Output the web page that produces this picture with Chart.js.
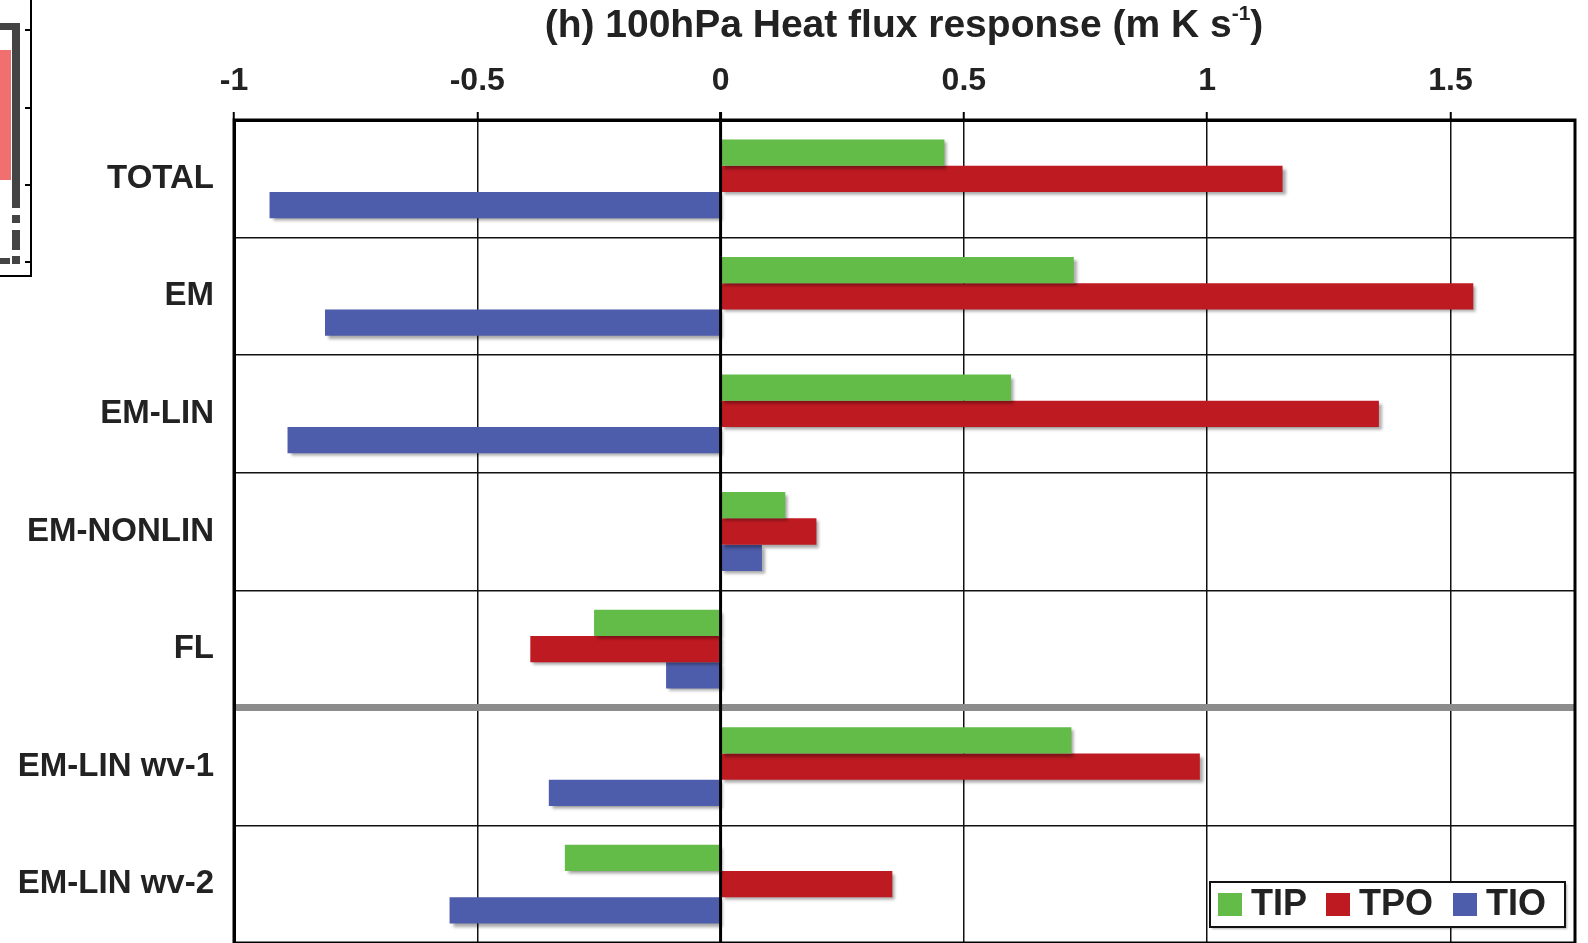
<!DOCTYPE html>
<html>
<head>
<meta charset="utf-8">
<script src="https://cdn.jsdelivr.net/npm/chart.js@4.4.1/dist/chart.umd.min.js"></script>
<style>
  html, body { margin: 0; padding: 0; background: #fff; }
</style>
</head>
<body>
<canvas id="heatChart" width="1588" height="943"></canvas>
<script>
const categories = ['TOTAL', 'EM', 'EM-LIN', 'EM-NONLIN', 'FL', 'EM-LIN wv-1', 'EM-LIN wv-2'];
const tipValues = [0.46, 0.726, 0.597, 0.133, -0.26, 0.721, -0.32];
const tpoValues = [1.155, 1.547, 1.353, 0.197, -0.391, 0.985, 0.353];
const tioValues = [-0.927, -0.813, -0.89, 0.085, -0.112, -0.353, -0.557];
const xTicks = [-1, -0.5, 0, 0.5, 1, 1.5];

const FONT = '"Liberation Sans", Arial, Helvetica, sans-serif';

// shadows under the bars, zero line + frame on top
const barShadow = {
    id: 'barShadow',
    beforeDatasetsDraw(chart) {
        const ctx = chart.ctx;
        ctx.save();
        ctx.shadowColor = 'rgba(0,0,0,0.35)';
        ctx.shadowOffsetX = 3;
        ctx.shadowOffsetY = 3;
        ctx.shadowBlur = 3;
    },
    afterDatasetsDraw(chart) {
        const ctx = chart.ctx;
        ctx.restore();
        const a = chart.chartArea;
        const x0 = chart.scales.x.getPixelForValue(0);
        ctx.save();
        ctx.strokeStyle = '#000';
        ctx.lineWidth = 3;
        ctx.beginPath();
        ctx.moveTo(x0, a.top - 8);
        ctx.lineTo(x0, a.bottom);
        ctx.stroke();
        ctx.strokeRect(a.left, a.top, a.right - a.left, a.bottom - a.top);
        ctx.restore();
    }
};

const extras = {
    id: 'extras',
    afterDraw(chart) {
        const ctx = chart.ctx;
        ctx.save();
        // title with superscript
        ctx.fillStyle = '#222';
        ctx.textBaseline = 'alphabetic';
        const main = '(h) 100hPa Heat flux response (m K s';
        ctx.font = 'bold 39px ' + FONT;
        const w1 = ctx.measureText(main).width;
        ctx.font = 'bold 21px ' + FONT;
        const w2 = ctx.measureText('-1').width;
        ctx.font = 'bold 39px ' + FONT;
        const w3 = ctx.measureText(')').width;
        let x = 904 - (w1 + w2 + w3) / 2;
        const base = 37;
        ctx.fillText(main, x, base);
        ctx.font = 'bold 21px ' + FONT;
        ctx.fillText('-1', x + w1, base - 17);
        ctx.font = 'bold 39px ' + FONT;
        ctx.fillText(')', x + w1 + w2, base);

        // legend box
        const lx = 1210, ly = 882, lw = 355, lh = 45;
        ctx.shadowColor = 'rgba(0,0,0,0.3)';
        ctx.shadowOffsetX = 2;
        ctx.shadowOffsetY = 2;
        ctx.shadowBlur = 2;
        ctx.fillStyle = '#fff';
        ctx.fillRect(lx, ly, lw, lh);
        ctx.shadowColor = 'transparent';
        ctx.strokeStyle = '#111';
        ctx.lineWidth = 2;
        ctx.strokeRect(lx, ly, lw, lh);
        const itemX = [1218, 1326, 1453];
        ctx.font = 'bold 36px ' + FONT;
        ctx.textBaseline = 'middle';
        chart.data.datasets.forEach((ds, i) => {
            ctx.fillStyle = ds.backgroundColor;
            ctx.fillRect(itemX[i], 893, 24, 23);
            ctx.fillStyle = '#222';
            ctx.fillText(ds.label, itemX[i] + 33, 905);
        });

        // cut-off neighbour panel on the far left
        ctx.fillStyle = '#f07070';
        ctx.fillRect(0, 50, 11, 130);
        ctx.fillStyle = '#444';
        ctx.fillRect(0, 23, 20, 7);
        ctx.fillRect(12, 23, 8, 185);
        [[215, 8], [230, 20], [256, 8]].forEach(([y, h]) => ctx.fillRect(12, y, 8, h));
        ctx.fillRect(0, 258, 10, 6);
        ctx.strokeStyle = '#000';
        ctx.lineWidth = 2;
        ctx.beginPath();
        ctx.moveTo(31, 0);
        ctx.lineTo(31, 276);
        ctx.lineTo(0, 276);
        [30, 108, 185, 262].forEach(y => { ctx.moveTo(31, y); ctx.lineTo(25, y); });
        ctx.stroke();
        ctx.restore();
    }
};

new Chart(document.getElementById('heatChart'), {
    type: 'bar',
    data: {
        labels: categories,
        datasets: [
            { label: 'TIP', data: tipValues, backgroundColor: '#63bb48' },
            { label: 'TPO', data: tpoValues, backgroundColor: '#be1a22' },
            { label: 'TIO', data: tioValues, backgroundColor: '#4e5dab' }
        ]
    },
    options: {
        indexAxis: 'y',
        responsive: false,
        animation: false,
        devicePixelRatio: 1,
        categoryPercentage: 0.67,
        barPercentage: 1.0,
        layout: { padding: { top: 0, right: 13, bottom: 0, left: 0 } },
        plugins: {
            legend: { display: false },
            title: { display: false },
            tooltip: { enabled: false }
        },
        scales: {
            x: {
                type: 'linear',
                position: 'top',
                min: -1,
                max: 1.756,
                afterBuildTicks: (scale) => {
                    scale.ticks = xTicks.map(v => ({ value: v }));
                },
                afterFit: (scale) => { scale.height = 120; },
                ticks: {
                    color: '#222',
                    font: { family: FONT, size: 32, weight: 'bold' },
                    padding: 12,
                    maxRotation: 0,
                    callback: (v) => String(v)
                },
                grid: {
                    color: '#111',
                    lineWidth: 1.5,
                    tickLength: 8,
                    tickColor: '#000',
                    tickWidth: 2
                },
                border: { display: true, color: '#000', width: 3 }
            },
            y: {
                type: 'category',
                afterFit: (scale) => {
                    scale.width = 234;
                    scale.paddingTop = 0;
                    scale.paddingBottom = 0;
                },
                ticks: {
                    color: '#222',
                    font: { family: FONT, size: 33, weight: 'bold' },
                    padding: 20
                },
                grid: {
                    offset: true,
                    drawTicks: false,
                    color: (ctx) => ctx.index === 5 ? '#8c8c8c' : '#111',
                    lineWidth: (ctx) => ctx.index === 5 ? 7 : 1.5
                },
                border: { display: true, color: '#000', width: 3 }
            }
        }
    },
    plugins: [barShadow, extras]
});
</script>
</body>
</html>
